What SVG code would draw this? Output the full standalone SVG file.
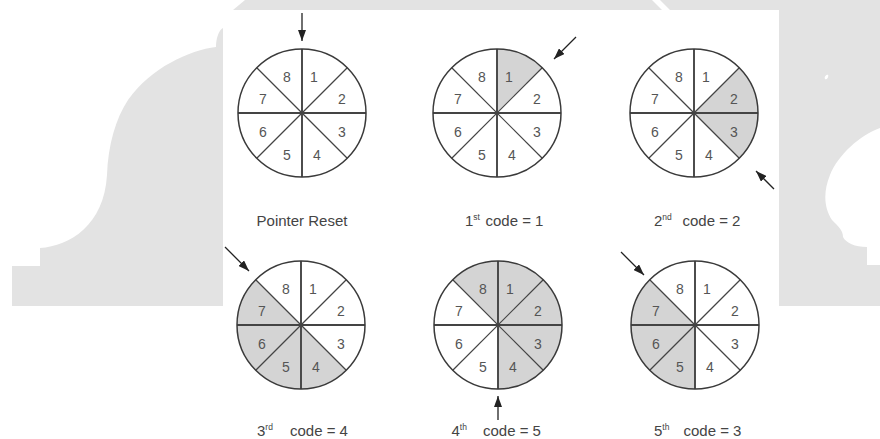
<svg xmlns="http://www.w3.org/2000/svg" xmlns:xlink="http://www.w3.org/1999/xlink" width="880" height="439" viewBox="0 0 880 439">
<defs>
<style>
.bg{fill:#e3e3e3;stroke:none}
.sh{fill:#d4d4d4;stroke:none}
.rim{fill:none;stroke:#3a3a3a;stroke-width:1.5}
.ax{stroke:#444;stroke-width:1.9}
.dg{stroke:#444;stroke-width:1.2}
.d{font-family:"Liberation Sans",Arial,sans-serif;font-size:14px;fill:#555;text-anchor:middle}
.lbl{font-family:"Liberation Sans",Arial,sans-serif;font-size:15px;fill:#444}
.sup{font-size:8.5px}
.arr{stroke:#222;stroke-width:1.3;fill:none}
</style>
<marker id="ah" viewBox="0 0 11 8" refX="11" refY="4" markerWidth="11" markerHeight="8" markerUnits="userSpaceOnUse" orient="auto">
<path d="M0,0 L11,4 L0,8 Z" fill="#222"/>
</marker>
<path id="s1" d="M0,0 L0,-64 A64,64 0 0 1 45.25,-45.25 Z"/>
<path id="s2" d="M0,0 L45.25,-45.25 A64,64 0 0 1 64,0 Z"/>
<path id="s3" d="M0,0 L64,0 A64,64 0 0 1 45.25,45.25 Z"/>
<path id="s4" d="M0,0 L45.25,45.25 A64,64 0 0 1 0,64 Z"/>
<path id="s5" d="M0,0 L0,64 A64,64 0 0 1 -45.25,45.25 Z"/>
<path id="s6" d="M0,0 L-45.25,45.25 A64,64 0 0 1 -64,0 Z"/>
<path id="s7" d="M0,0 L-64,0 A64,64 0 0 1 -45.25,-45.25 Z"/>
<path id="s8" d="M0,0 L-45.25,-45.25 A64,64 0 0 1 0,-64 Z"/>
<g id="spokes">
<line class="dg" x1="-45.25" y1="-45.25" x2="45.25" y2="45.25"/>
<line class="dg" x1="45.25" y1="-45.25" x2="-45.25" y2="45.25"/>
<line class="ax" x1="0" y1="-64" x2="0" y2="64"/>
<line class="ax" x1="-64" y1="0" x2="64" y2="0"/>
<circle class="rim" cx="0" cy="0" r="64"/>
</g>
</defs>

<rect x="0" y="0" width="880" height="439" fill="#ffffff"/>
<g id="background">
<path class="bg" d="M223,28 C219,30 216,38 216,47 C190,50 150,68 128,100 C116,118 108,145 107,175 C104,225 70,246 40,248 L40,266 L12,266 L12,306 L223,306 Z"/>
<path class="bg" d="M245,0 L652,0 L662,10 L233,10 Z"/>
<path class="bg" d="M660,0 L880,0 L880,128 C860,135 838,155 830,175 C823,192 824,208 832,220 C838,226 843,230 843,237 C846,243 855,247 867,247 L867,265 L880,265 L880,306 L779,306 L779,10 L670,10 Z"/>
<ellipse cx="826.5" cy="77" rx="1.5" ry="2.5" transform="rotate(30 826.5 77)" fill="#ffffff"/>
<rect x="223" y="10" width="556" height="429" fill="#ffffff"/>
</g>

<g id="n1" transform="translate(302,113)">
<use href="#spokes"/>
<text class="d" x="-15" y="-31">8</text><text class="d" x="12" y="-31">1</text>
<text class="d" x="-39" y="-9">7</text><text class="d" x="40" y="-9">2</text>
<text class="d" x="-39" y="24">6</text><text class="d" x="40" y="24">3</text>
<text class="d" x="-15" y="47">5</text><text class="d" x="15" y="47">4</text>
<text class="lbl" x="0" y="112.5" text-anchor="middle">Pointer Reset</text>
</g>

<g id="n2" transform="translate(497,113)">
<use href="#s1" class="sh"/>
<use href="#spokes"/>
<text class="d" x="-15" y="-31">8</text><text class="d" x="12" y="-31">1</text>
<text class="d" x="-39" y="-9">7</text><text class="d" x="40" y="-9">2</text>
<text class="d" x="-39" y="24">6</text><text class="d" x="40" y="24">3</text>
<text class="d" x="-15" y="47">5</text><text class="d" x="15" y="47">4</text>
<text class="lbl" x="-32" y="112.5">1<tspan class="sup" dy="-6">st</tspan><tspan x="-11.5" dy="6">code = 1</tspan></text>
</g>

<g id="n3" transform="translate(694,113)">
<use href="#s2" class="sh"/><use href="#s3" class="sh"/>
<use href="#spokes"/>
<text class="d" x="-15" y="-31">8</text><text class="d" x="12" y="-31">1</text>
<text class="d" x="-39" y="-9">7</text><text class="d" x="40" y="-9">2</text>
<text class="d" x="-39" y="24">6</text><text class="d" x="40" y="24">3</text>
<text class="d" x="-15" y="47">5</text><text class="d" x="15" y="47">4</text>
<text class="lbl" x="-40" y="112.5">2<tspan class="sup" dy="-6">nd</tspan><tspan x="-11.5" dy="6">code = 2</tspan></text>
</g>

<g id="n4" transform="translate(301,325)">
<use href="#s4" class="sh"/><use href="#s5" class="sh"/><use href="#s6" class="sh"/><use href="#s7" class="sh"/>
<use href="#spokes"/>
<text class="d" x="-15" y="-31">8</text><text class="d" x="12" y="-31">1</text>
<text class="d" x="-39" y="-9">7</text><text class="d" x="40" y="-9">2</text>
<text class="d" x="-39" y="24">6</text><text class="d" x="40" y="24">3</text>
<text class="d" x="-15" y="47">5</text><text class="d" x="15" y="47">4</text>
<text class="lbl" x="-44" y="111">3<tspan class="sup" dy="-6">rd</tspan><tspan x="-11" dy="6">code = 4</tspan></text>
</g>

<g id="n5" transform="translate(498,325)">
<use href="#s8" class="sh"/><use href="#s1" class="sh"/><use href="#s2" class="sh"/><use href="#s3" class="sh"/><use href="#s4" class="sh"/>
<use href="#spokes"/>
<text class="d" x="-15" y="-31">8</text><text class="d" x="12" y="-31">1</text>
<text class="d" x="-39" y="-9">7</text><text class="d" x="40" y="-9">2</text>
<text class="d" x="-39" y="24">6</text><text class="d" x="40" y="24">3</text>
<text class="d" x="-15" y="47">5</text><text class="d" x="15" y="47">4</text>
<text class="lbl" x="-46.5" y="111">4<tspan class="sup" dy="-6">th</tspan><tspan x="-15" dy="6">code = 5</tspan></text>
</g>

<g id="n6" transform="translate(695,325)">
<use href="#s5" class="sh"/><use href="#s6" class="sh"/><use href="#s7" class="sh"/>
<use href="#spokes"/>
<text class="d" x="-15" y="-31">8</text><text class="d" x="12" y="-31">1</text>
<text class="d" x="-39" y="-9">7</text><text class="d" x="40" y="-9">2</text>
<text class="d" x="-39" y="24">6</text><text class="d" x="40" y="24">3</text>
<text class="d" x="-15" y="47">5</text><text class="d" x="15" y="47">4</text>
<text class="lbl" x="-41" y="111">5<tspan class="sup" dy="-6">th</tspan><tspan x="-11.5" dy="6">code = 3</tspan></text>
</g>

<g id="connectors">
<line class="arr" x1="302" y1="13" x2="302" y2="41" marker-end="url(#ah)"/>
<line class="arr" x1="576" y1="37" x2="554" y2="59" marker-end="url(#ah)"/>
<line class="arr" x1="774" y1="189" x2="756" y2="171" marker-end="url(#ah)"/>
<line class="arr" x1="225" y1="247" x2="249" y2="271" marker-end="url(#ah)"/>
<line class="arr" x1="498" y1="420" x2="498" y2="396" marker-end="url(#ah)"/>
<line class="arr" x1="621" y1="252" x2="644" y2="275" marker-end="url(#ah)"/>
</g>
</svg>
